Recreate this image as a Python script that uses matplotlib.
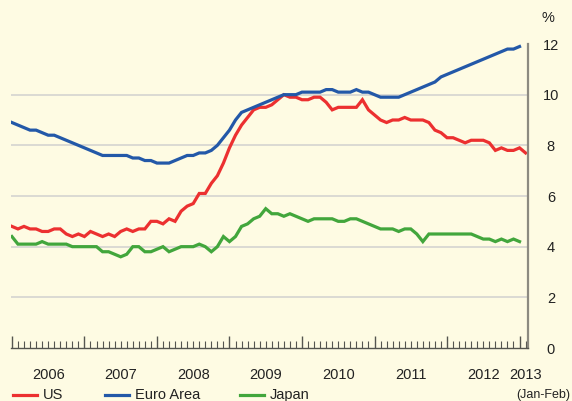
import matplotlib.pyplot as plt
from matplotlib.lines import Line2D
from matplotlib.ticker import MultipleLocator

plt.rcParams['font.family'] = ['Liberation Sans', 'DejaVu Sans']

# monthly unemployment rates, Jan 2006 onwards (%)
us = [4.8, 4.7, 4.8, 4.7, 4.7, 4.6, 4.6, 4.7, 4.7, 4.5, 4.4, 4.5,
      4.4, 4.6, 4.5, 4.4, 4.5, 4.4, 4.6, 4.7, 4.6, 4.7, 4.7, 5.0,
      5.0, 4.9, 5.1, 5.0, 5.4, 5.6, 5.7, 6.1, 6.1, 6.5, 6.8, 7.3,
      7.9, 8.4, 8.8, 9.1, 9.4, 9.5, 9.5, 9.6, 9.8, 10.0, 9.9, 9.9,
      9.8, 9.8, 9.9, 9.9, 9.7, 9.4, 9.5, 9.5, 9.5, 9.5, 9.8, 9.4,
      9.2, 9.0, 8.9, 9.0, 9.0, 9.1, 9.0, 9.0, 9.0, 8.9, 8.6, 8.5,
      8.3, 8.3, 8.2, 8.1, 8.2, 8.2, 8.2, 8.1, 7.8, 7.9, 7.8, 7.8,
      7.9, 7.7]
euro = [8.9, 8.8, 8.7, 8.6, 8.6, 8.5, 8.4, 8.4, 8.3, 8.2, 8.1, 8.0,
        7.9, 7.8, 7.7, 7.6, 7.6, 7.6, 7.6, 7.6, 7.5, 7.5, 7.4, 7.4,
        7.3, 7.3, 7.3, 7.4, 7.5, 7.6, 7.6, 7.7, 7.7, 7.8, 8.0, 8.3,
        8.6, 9.0, 9.3, 9.4, 9.5, 9.6, 9.7, 9.8, 9.9, 10.0, 10.0, 10.0,
        10.1, 10.1, 10.1, 10.1, 10.2, 10.2, 10.1, 10.1, 10.1, 10.2, 10.1, 10.1,
        10.0, 9.9, 9.9, 9.9, 9.9, 10.0, 10.1, 10.2, 10.3, 10.4, 10.5, 10.7,
        10.8, 10.9, 11.0, 11.1, 11.2, 11.3, 11.4, 11.5, 11.6, 11.7, 11.8, 11.8,
        11.9]
japan = [4.4, 4.1, 4.1, 4.1, 4.1, 4.2, 4.1, 4.1, 4.1, 4.1, 4.0, 4.0,
         4.0, 4.0, 4.0, 3.8, 3.8, 3.7, 3.6, 3.7, 4.0, 4.0, 3.8, 3.8,
         3.9, 4.0, 3.8, 3.9, 4.0, 4.0, 4.0, 4.1, 4.0, 3.8, 4.0, 4.4,
         4.2, 4.4, 4.8, 4.9, 5.1, 5.2, 5.5, 5.3, 5.3, 5.2, 5.3, 5.2,
         5.1, 5.0, 5.1, 5.1, 5.1, 5.1, 5.0, 5.0, 5.1, 5.1, 5.0, 4.9,
         4.8, 4.7, 4.7, 4.7, 4.6, 4.7, 4.7, 4.5, 4.2, 4.5, 4.5, 4.5,
         4.5, 4.5, 4.5, 4.5, 4.5, 4.4, 4.3, 4.3, 4.2, 4.3, 4.2, 4.3,
         4.2]
years = ['2006', '2007', '2008', '2009', '2010', '2011', '2012']

bg = '#fefbe3'
red, blue, green = '#ec3030', '#2358a8', '#42a63c'
txt = '#222222'

fig = plt.figure(figsize=(5.72, 4.01), dpi=100, facecolor=bg)
ax = fig.add_axes([11 / 572, 53 / 401, 517 / 572, 304 / 401], facecolor=bg)

ax.plot(range(len(us)), us, color=red, lw=2.3, solid_joinstyle='miter')
ax.plot(range(len(euro)), euro, color=blue, lw=2.3, solid_joinstyle='miter')
ax.plot(range(len(japan)), japan, color=green, lw=2.3, solid_joinstyle='miter')

ax.set_xlim(-0.15, 85.4)
ax.set_ylim(0, 12)
for v in [2, 4, 6, 8, 10]:
    ax.axhline(v, color='#d4d4d0', lw=1.2, zorder=0)

for s in ['top', 'left']:
    ax.spines[s].set_visible(False)
ax.spines['right'].set_color('#8c8a80')
ax.spines['right'].set_linewidth(1.6)
ax.spines['bottom'].set_color('#55554f')
ax.spines['bottom'].set_linewidth(1.0)

ax.xaxis.set_major_locator(MultipleLocator(12))
ax.xaxis.set_minor_locator(MultipleLocator(1))
ax.tick_params(axis='x', which='major', direction='in', length=9, width=1.0,
               color='#55554f', labelbottom=False)
ax.tick_params(axis='x', which='minor', direction='in', length=5, width=0.8,
               color='#55554f')

ax.yaxis.tick_right()
ax.set_yticks([0, 2, 4, 6, 8, 10, 12])
ax.tick_params(axis='y', length=0, pad=16.5, labelsize=10.5, labelcolor=txt)
for lab in ax.get_yticklabels():
    lab.set_horizontalalignment('center')

ax.text(1.038, 1.086, '%', transform=ax.transAxes, ha='center', va='center',
        fontsize=10.5, color=txt)

for i, y in enumerate(years):
    ax.text(12 * i + 6, -1.05, y, ha='center', va='center', fontsize=10.5,
            color=txt)
ax.text(85.0, -1.05, '2013', ha='center', va='center', fontsize=10.5, color=txt)
fig.text(570 / 572, 6 / 401, '(Jan-Feb)', ha='right', va='center',
         fontsize=9, color=txt)

# legend
items = [('US', red, 13), ('Euro Area', blue, 105), ('Japan', green, 240)]
for name, c, x0 in items:
    fig.add_artist(Line2D([x0 / 572, (x0 + 24) / 572], [6 / 401, 6 / 401],
                          color=c, lw=2.3, transform=fig.transFigure))
    fig.text((x0 + 30) / 572, 6 / 401, name, ha='left', va='center',
             fontsize=10.5, color=txt)

fig.savefig('out.png', dpi=100, facecolor=bg)
